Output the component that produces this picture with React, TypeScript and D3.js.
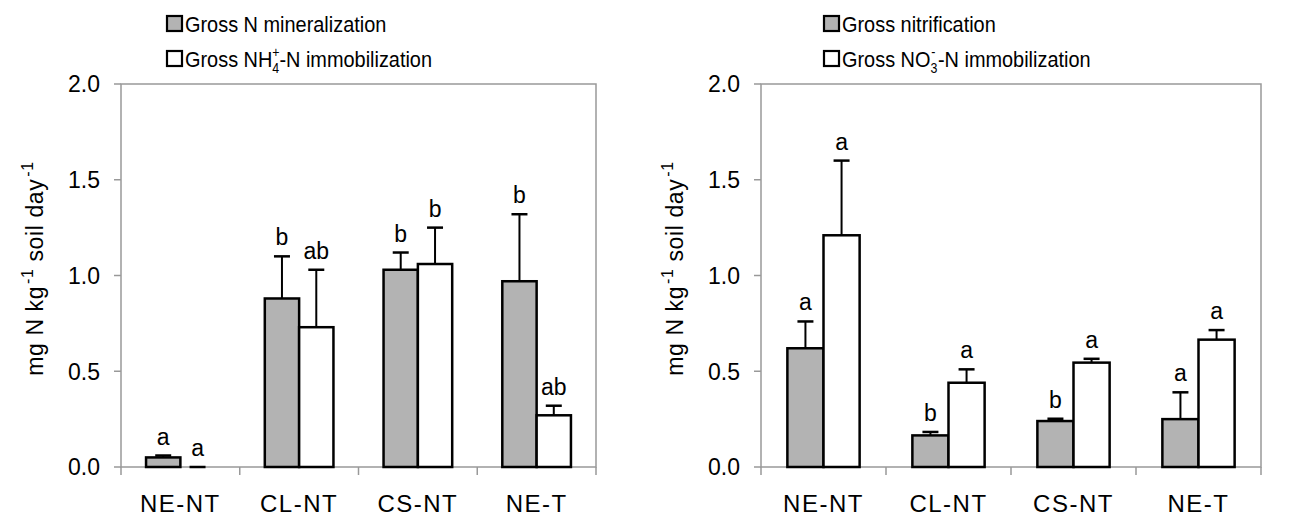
import * as d3 from "d3";

const categories = ["NE-NT", "CL-NT", "CS-NT", "NE-T"];
const yTicks = [0, 0.5, 1.0, 1.5, 2.0];

// left panel: ammonium pool
const mineralization = [0.05, 0.88, 1.03, 0.97];
const mineralizationErr = [0.01, 0.22, 0.09, 0.35];
const mineralizationLetters = ["a", "b", "b", "b"];
const nh4Immobilization = [0.0, 0.73, 1.06, 0.27];
const nh4ImmobilizationErr = [0.0, 0.3, 0.19, 0.05];
const nh4Letters = ["a", "ab", "b", "ab"];

// right panel: nitrate pool
const nitrification = [0.62, 0.165, 0.24, 0.25];
const nitrificationErr = [0.14, 0.018, 0.012, 0.14];
const nitrificationLetters = ["a", "b", "b", "a"];
const no3Immobilization = [1.21, 0.44, 0.545, 0.665];
const no3ImmobilizationErr = [0.39, 0.07, 0.02, 0.05];
const no3Letters = ["a", "a", "a", "a"];

const FONT = "'Liberation Sans', Arial, sans-serif";
const GREY = "#b3b3b3";
const AXIS = "#999999";

interface Series {
  values: number[];
  errors: number[];
  letters: string[];
  fill: string;
}

interface PanelProps {
  x0: number;
  x1: number;
  legendX: number;
  series: Series[];
  legend: React.ReactNode[];
}

function Panel({ x0, x1, legendX, series, legend }: PanelProps) {
  const yTop = 84;
  const yBot = 467;
  const x = d3.scaleBand<string>().domain(categories).range([x0, x1]).padding(0);
  const inner = d3
    .scaleBand<number>()
    .domain(series.map((_, i) => i))
    .range([0, x.bandwidth()])
    .paddingInner(0)
    .paddingOuter(0.73);
  const y = d3.scaleLinear().domain([0, 2]).range([yBot, yTop]);
  const fmt = d3.format(".1f");
  const boundaries = [...categories.map((c) => x(c)!), x1];

  return (
    <g>
      {/* plot frame */}
      <rect x={x0} y={yTop} width={x1 - x0} height={yBot - yTop} fill="none" stroke={AXIS} strokeWidth={1.5} />
      {yTicks.map((t) => (
        <g key={t}>
          <line x1={x0 - 7} x2={x0} y1={y(t)} y2={y(t)} stroke={AXIS} strokeWidth={1.5} />
          <text x={x0 - 21} y={y(t)} dy="0.36em" textAnchor="end" fontSize={23} fontFamily={FONT}>
            {fmt(t)}
          </text>
        </g>
      ))}
      {boundaries.map((bx, i) => (
        <line key={i} x1={bx} x2={bx} y1={yBot} y2={yBot + 8} stroke={AXIS} strokeWidth={1.5} />
      ))}
      {categories.map((c) => (
        <text
          key={c}
          x={x(c)! + x.bandwidth() / 2}
          y={512}
          textAnchor="middle"
          fontSize={24}
          letterSpacing={1.5}
          fontFamily={FONT}
        >
          {c}
        </text>
      ))}
      <text
        transform={`translate(${x0 - 78},${(yTop + yBot) / 2 - 7}) rotate(-90)`}
        textAnchor="middle"
        fontSize={23}
        letterSpacing={0.6}
        fontFamily={FONT}
      >
        mg N kg
        <tspan fontSize={16} dx={2} dy={-10}>-1</tspan>
        <tspan dy={10}> soil day</tspan>
        <tspan fontSize={16} dx={2} dy={-10}>-1</tspan>
      </text>

      {series.map((s, si) =>
        categories.map((c, ci) => {
          const bx = x(c)! + inner(si)!;
          const bw = inner.bandwidth();
          const cx = bx + bw / 2;
          const top = y(s.values[ci]);
          const capY = y(s.values[ci] + s.errors[ci]);
          return (
            <g key={`${si}-${c}`}>
              {s.values[ci] > 0 && (
                <rect x={bx} y={top} width={bw} height={yBot - top} fill={s.fill} stroke="#000" strokeWidth={2.5} />
              )}
              <line x1={cx} x2={cx} y1={top} y2={capY} stroke="#000" strokeWidth={2} />
              <line x1={cx - 8} x2={cx + 8} y1={capY} y2={capY} stroke="#000" strokeWidth={2.5} />
              <text x={cx} y={capY - 11} textAnchor="middle" fontSize={23} fontFamily={FONT}>
                {s.letters[ci]}
              </text>
            </g>
          );
        })
      )}

      {legend.map((label, i) => (
        <g key={i} transform={`translate(${legendX},${16 + i * 35})`}>
          <rect x={0} y={0} width={15} height={15} fill={series[i].fill} stroke="#000" strokeWidth={2.2} />
          <text transform="translate(18,15.5) scale(0.885,1)" fontSize={22.5} fontFamily={FONT}>
            {label}
          </text>
        </g>
      ))}
    </g>
  );
}

export default function App() {
  const left: Series[] = [
    { values: mineralization, errors: mineralizationErr, letters: mineralizationLetters, fill: GREY },
    { values: nh4Immobilization, errors: nh4ImmobilizationErr, letters: nh4Letters, fill: "#fff" },
  ];
  const right: Series[] = [
    { values: nitrification, errors: nitrificationErr, letters: nitrificationLetters, fill: GREY },
    { values: no3Immobilization, errors: no3ImmobilizationErr, letters: no3Letters, fill: "#fff" },
  ];

  return (
    <svg width={1307} height={517} style={{ position: "absolute", left: 0, top: 0, background: "#fff" }}>
      <Panel
        x0={121}
        x1={596}
        legendX={167}
        series={left}
        legend={[
          "Gross N mineralization",
          <>
            Gross NH
            <tspan fontSize={14} dy={6}>4</tspan>
            <tspan fontSize={14} dx={-8} dy={-16}>+</tspan>
            <tspan dy={10}>-N immobilization</tspan>
          </>,
        ]}
      />
      <Panel
        x0={761}
        x1={1261}
        legendX={824}
        series={right}
        legend={[
          "Gross nitrification",
          <>
            Gross NO
            <tspan fontSize={14} dy={6}>3</tspan>
            <tspan fontSize={14} dx={-7} dy={-16}>-</tspan>
            <tspan dx={3} dy={10}>-N immobilization</tspan>
          </>,
        ]}
      />
    </svg>
  );
}
